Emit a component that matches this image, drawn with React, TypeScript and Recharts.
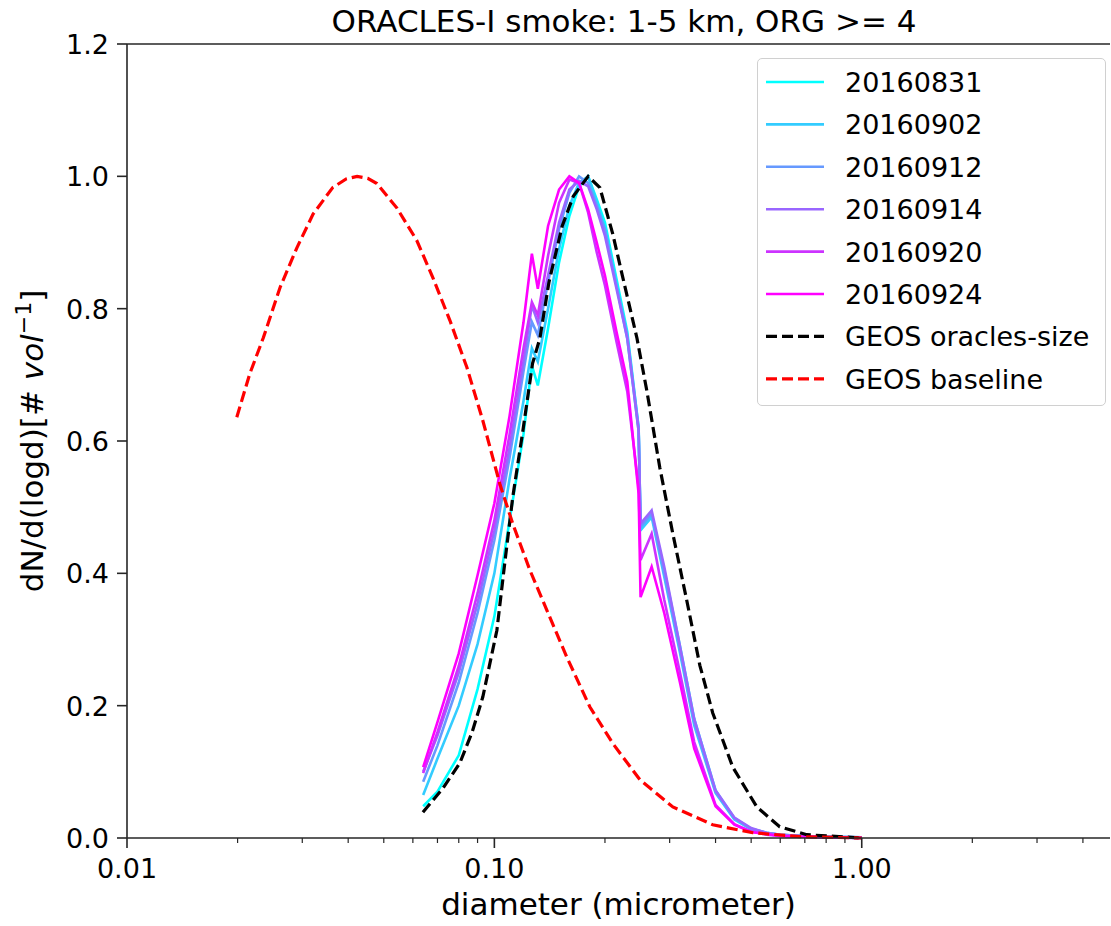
import { LineChart, Line, XAxis, YAxis, ReferenceLine, Legend } from "recharts";

// measured size distributions (normalised), shared diameter bins in micrometer
const diam = [
  0.064, 0.07, 0.08, 0.09, 0.1, 0.11, 0.12, 0.1265, 0.1313, 0.14, 0.15, 0.16,
  0.17, 0.18, 0.19, 0.2, 0.215, 0.23, 0.247, 0.25, 0.268, 0.29, 0.32, 0.35,
  0.4, 0.45, 0.5, 0.55, 0.6, 0.7, 0.8, 1.0,
];
const v20160831 = [
  0.048, 0.07, 0.125, 0.225, 0.335, 0.48, 0.61, 0.714, 0.684, 0.77, 0.87, 0.94,
  0.985, 1.0, 0.965, 0.93, 0.845, 0.765, 0.62, 0.47, 0.49, 0.405, 0.29, 0.18,
  0.072, 0.03, 0.014, 0.008, 0.005, 0.003, 0.002, 0.001,
];
const v20160902 = [
  0.065, 0.12, 0.2, 0.293, 0.4, 0.543, 0.66, 0.74, 0.72, 0.8, 0.89, 0.955,
  0.99, 1.0, 0.96, 0.92, 0.835, 0.755, 0.615, 0.465, 0.485, 0.395, 0.28, 0.17,
  0.068, 0.028, 0.013, 0.007, 0.004, 0.002, 0.001, 0.0,
];
const v20160912 = [
  0.085, 0.14, 0.235, 0.34, 0.45, 0.575, 0.705, 0.78, 0.76, 0.84, 0.92, 0.975,
  1.0, 0.99, 0.955, 0.92, 0.835, 0.76, 0.62, 0.47, 0.49, 0.4, 0.285, 0.175,
  0.07, 0.03, 0.014, 0.008, 0.005, 0.003, 0.002, 0.001,
];
const v20160914 = [
  0.1, 0.155, 0.25, 0.355, 0.465, 0.59, 0.72, 0.805, 0.779, 0.85, 0.93, 0.98,
  0.993, 0.985, 0.95, 0.91, 0.83, 0.755, 0.615, 0.475, 0.495, 0.41, 0.29, 0.18,
  0.072, 0.031, 0.015, 0.008, 0.005, 0.003, 0.002, 0.001,
];
const v20160920 = [
  0.098, 0.16, 0.26, 0.37, 0.48, 0.61, 0.74, 0.81, 0.79, 0.88, 0.96, 0.995,
  0.99, 0.945, 0.885, 0.835, 0.75, 0.675, 0.53, 0.42, 0.46, 0.36, 0.25, 0.145,
  0.05, 0.021, 0.01, 0.005, 0.003, 0.002, 0.001, 0.0,
];
const v20160924 = [
  0.107, 0.175, 0.279, 0.397, 0.506, 0.638, 0.779, 0.883, 0.83, 0.925, 0.98, 1.0,
  0.99, 0.95, 0.9, 0.85, 0.765, 0.69, 0.52, 0.364, 0.41, 0.34, 0.235, 0.135,
  0.048, 0.02, 0.009, 0.006, 0.003, 0.002, 0.001, 0.0,
];

const dateNames = ["20160831", "20160902", "20160912", "20160914", "20160920", "20160924"];
const dateValues = [v20160831, v20160902, v20160912, v20160914, v20160920, v20160924];
const dateColors = ["#00ffff", "#33ccff", "#6699ff", "#9966ff", "#cc33ff", "#ff00ff"];

// GEOS modelled distributions
const oraclesDiam = [
  0.0639, 0.0724, 0.0805, 0.087, 0.093, 0.1016, 0.1067, 0.1122, 0.1196, 0.127,
  0.133, 0.1408, 0.153, 0.164, 0.18, 0.1937, 0.21, 0.2237, 0.2443, 0.26,
  0.282, 0.306, 0.334, 0.3625, 0.393, 0.4457, 0.518, 0.598, 0.7085, 1.0,
];
const oraclesVal = [
  0.039, 0.075, 0.113, 0.16, 0.213, 0.314, 0.415, 0.515, 0.616, 0.717,
  0.755, 0.84, 0.925, 0.97, 1.0, 0.983, 0.913, 0.847, 0.756, 0.676,
  0.56, 0.46, 0.359, 0.261, 0.189, 0.107, 0.047, 0.017, 0.005, 0.0,
];
const baselineDiam = [
  0.0199, 0.0216, 0.0235, 0.0261, 0.029, 0.0321, 0.0363, 0.0395, 0.0423, 0.0452,
  0.0479, 0.0543, 0.0615, 0.068, 0.0757, 0.0842, 0.093, 0.1035, 0.1122, 0.1249,
  0.139, 0.1576, 0.182, 0.21, 0.249, 0.306, 0.393, 0.505, 0.678, 1.0,
];
const baselineVal = [
  0.636, 0.702, 0.756, 0.832, 0.892, 0.943, 0.983, 0.996, 1.0, 0.997,
  0.989, 0.952, 0.903, 0.847, 0.782, 0.711, 0.631, 0.535, 0.475, 0.405,
  0.344, 0.273, 0.198, 0.143, 0.088, 0.047, 0.02, 0.008, 0.002, 0.0,
];

const xMajor = [0.01, 0.1, 1];
const xMinor = [
  0.02, 0.03, 0.04, 0.05, 0.06, 0.07, 0.08, 0.09,
  0.2, 0.3, 0.4, 0.5, 0.6, 0.7, 0.8, 0.9, 2, 3, 4,
];
const yTicks = [0, 0.2, 0.4, 0.6, 0.8, 1.0, 1.2];

const FONT = "DejaVu Sans";
const INK = "#262626";

const tableData = diam.map((d, i) => {
  const row: Record<string, number> = { x: d };
  dateNames.forEach((n, k) => (row[n] = dateValues[k][i]));
  return row;
});
const oraclesData = oraclesDiam.map((d, i) => ({ x: d, y: oraclesVal[i] }));
const baselineData = baselineDiam.map((d, i) => ({ x: d, y: baselineVal[i] }));

function XTick(props: any) {
  const { x, y, payload } = props;
  const major = xMajor.some((m) => Math.abs(m - payload.value) < 1e-9);
  return (
    <g>
      <line x1={x} y1={y} x2={x} y2={y + (major ? 10 : 5)} stroke={INK} strokeWidth={major ? 1.6 : 1.2} />
      {major && (
        <text x={x} y={y + 40} textAnchor="middle" fontSize={27} fontFamily={FONT} fill="#000">
          {payload.value.toFixed(2)}
        </text>
      )}
    </g>
  );
}

function YTick(props: any) {
  const { x, y, payload } = props;
  return (
    <g>
      <line x1={x - 10} y1={y} x2={x} y2={y} stroke={INK} strokeWidth={1.6} />
      <text x={x - 18} y={y + 10} textAnchor="end" fontSize={27} fontFamily={FONT} fill="#000">
        {payload.value.toFixed(1)}
      </text>
    </g>
  );
}

function YLabel(props: any) {
  const vb = props.viewBox || { y: 44, height: 794 };
  const cx = 43;
  const cy = vb.y + vb.height / 2;
  return (
    <text
      x={cx}
      y={cy}
      transform={`rotate(-90 ${cx} ${cy})`}
      textAnchor="middle"
      fontSize={31}
      fontFamily={FONT}
      fill="#000"
    >
      dN/d(logd)[# <tspan fontStyle="italic">vol</tspan>
      <tspan fontSize={22} dy={-12}>−1</tspan>
      <tspan dy={12}>]</tspan>
    </text>
  );
}

function XLabel(props: any) {
  const vb = props.viewBox || { x: 127, y: 838, width: 983 };
  return (
    <text x={vb.x + vb.width / 2} y={vb.y + 77} textAnchor="middle" fontSize={31} fontFamily={FONT} fill="#000">
      diameter (micrometer)
    </text>
  );
}

const legendItems = [
  ...dateNames.map((n, i) => ({ name: n, color: dateColors[i], dashed: false })),
  { name: "GEOS oracles-size", color: "#000000", dashed: true },
  { name: "GEOS baseline", color: "#ff0000", dashed: true },
];

function LegendBox() {
  return (
    <div
      style={{
        width: 349,
        height: 348,
        boxSizing: "border-box",
        border: "1.5px solid #d0d0d0",
        borderRadius: 5,
        background: "rgba(255,255,255,0.8)",
      }}
    >
      <svg width={346} height={345} style={{ display: "block" }}>
        {legendItems.map((it, i) => {
          const cy = 23 + i * 42.4;
          return (
            <g key={it.name}>
              <line
                x1={8}
                x2={66}
                y1={cy}
                y2={cy}
                stroke={it.color}
                strokeWidth={it.dashed ? 3.2 : 2.6}
                strokeDasharray={it.dashed ? "11 5" : undefined}
              />
              <text x={87} y={cy + 10} fontSize={27} fontFamily={FONT} fill="#000">
                {it.name}
              </text>
            </g>
          );
        })}
      </svg>
    </div>
  );
}

export default function App() {
  return (
    <div style={{ position: "absolute", left: 0, top: 0, width: 1111, height: 926, background: "#fff" }}>
      <svg width={1111} height={42} style={{ position: "absolute", left: 0, top: 0 }}>
        <text x={624} y={32} textAnchor="middle" fontSize={31} fontFamily={FONT} fill="#000">
          ORACLES-I smoke: 1-5 km, ORG &gt;= 4
        </text>
      </svg>
      <LineChart
        width={1111}
        height={926}
        data={tableData}
        margin={{ top: 44, right: 1, bottom: 28, left: 67 }}
      >
        <XAxis
          dataKey="x"
          type="number"
          scale="log"
          domain={[0.01, 4.74]}
          allowDataOverflow
          ticks={[...xMajor, ...xMinor].sort((a, b) => a - b)}
          interval={0}
          tickSize={0}
          tickMargin={0}
          tickLine={false}
          tick={<XTick />}
          height={60}
          axisLine={{ stroke: INK, strokeWidth: 1.6 }}
          label={<XLabel />}
        />
        <YAxis
          type="number"
          domain={[0, 1.2]}
          ticks={yTicks}
          interval={0}
          tickSize={0}
          tickMargin={0}
          tickLine={false}
          tick={<YTick />}
          width={60}
          axisLine={{ stroke: INK, strokeWidth: 1.6 }}
          label={<YLabel />}
        />
        <ReferenceLine y={1.2} stroke={INK} strokeWidth={1.6} />
        {dateNames.map((n, i) => (
          <Line
            key={n}
            dataKey={n}
            type="linear"
            stroke={dateColors[i]}
            strokeWidth={2.6}
            dot={false}
            isAnimationActive={false}
          />
        ))}
        <Line
          data={oraclesData}
          dataKey="y"
          type="linear"
          stroke="#000000"
          strokeWidth={3.2}
          strokeDasharray="11 5"
          dot={false}
          isAnimationActive={false}
        />
        <Line
          data={baselineData}
          dataKey="y"
          type="linear"
          stroke="#ff0000"
          strokeWidth={3.2}
          strokeDasharray="11 5"
          dot={false}
          isAnimationActive={false}
        />
        <Legend
          layout="vertical"
          align="center"
          verticalAlign="middle"
          content={() => <LegendBox />}
          wrapperStyle={{ left: 757, top: 58, width: 349, height: 348 }}
        />
      </LineChart>
    </div>
  );
}
